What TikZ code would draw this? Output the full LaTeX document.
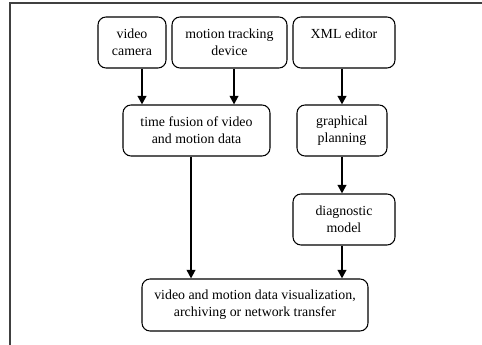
\documentclass[tikz,border=0pt]{standalone}
\usepackage{fontspec}
\setmainfont{Liberation Serif}
\usetikzlibrary{arrows.meta,calc}

\begin{document}
\begin{tikzpicture}[x=0.75pt,y=-0.75pt,
        blk/.style={draw,rounded corners=6pt,line width=0.8pt,align=center,
                minimum height=38.25pt,inner sep=2pt,
                font=\fontsize{10.4}{12.75}\selectfont},
        arr/.style={line width=1.5pt,-{Triangle[length=6.5pt,width=6.5pt]}}]
        \useasboundingbox (0,0) rectangle (482,345);
        \draw[line width=1.5pt,black!75] (10,345) -- (10,3) -- (482,3);
        % sources
        \node[blk,minimum width=51pt](cam) at (132,42.5){video\\camera};
        \node[blk,minimum width=86.25pt](mtd) at (229.5,42.5){motion tracking\\device};
        \node[blk,minimum width=76.5pt](xml) at (344,42.5){XML editor\\~};
        % processing
        \node[blk,minimum width=110.25pt](fus) at (196.5,130.5){time fusion of video\\and motion data};
        \node[blk,minimum width=67.5pt](plan) at (342,130.5){graphical\\planning};
        \node[blk,minimum width=76.5pt](diag) at (344,219.5){diagnostic\\model};
        \node[blk,minimum width=169.5pt,minimum height=39pt](out) at (255,305){video and motion data visualization,\\archiving or network transfer};
        % connections
        \draw[arr] ([xshift=7.5pt]cam.south) -- ([xshift=7.5pt]cam.south |- fus.north);
        \draw[arr] ([xshift=3.4pt]mtd.south) -- ([xshift=3.4pt]mtd.south |- fus.north);
        \draw[arr] (plan.north |- xml.south) -- (plan.north);
        \draw[arr] (plan.south) -- (plan.south |- diag.north);
        \draw[arr] ([xshift=-4.1pt]fus.south) -- ([xshift=-4.1pt]fus.south |- out.north);
        \draw[arr] (plan.south |- diag.south) -- (plan.south |- out.north);
\end{tikzpicture}
\end{document}
